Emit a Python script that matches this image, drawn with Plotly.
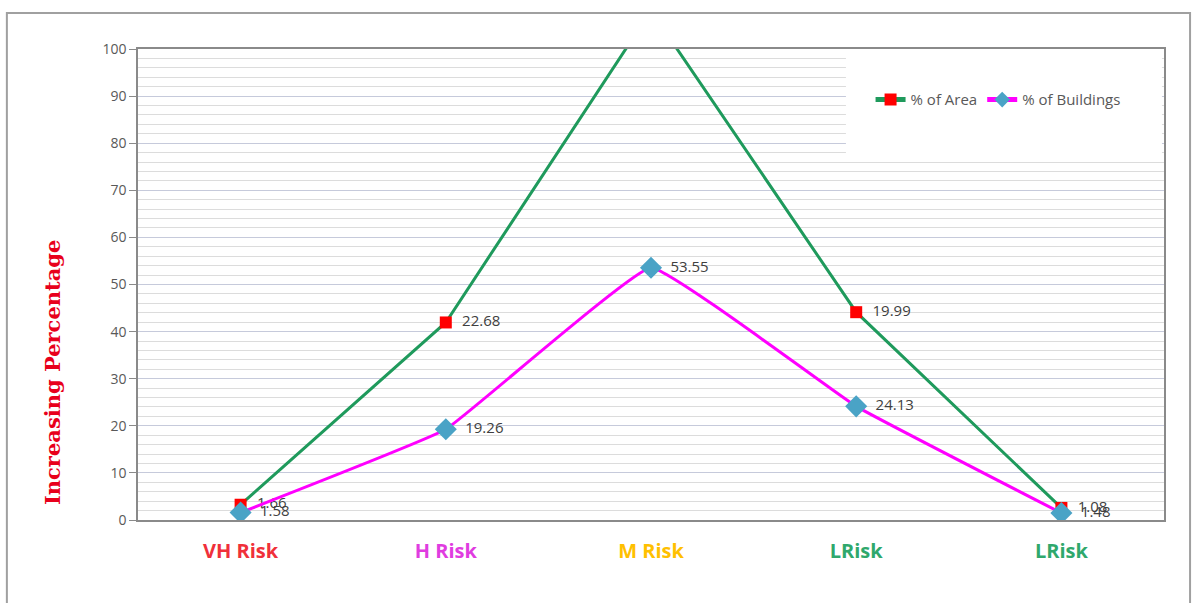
import numpy as np
import plotly.graph_objects as go

# risk zones and the two series (Excel stacked line chart)
categories = ["VH Risk", "H Risk", "M Risk", "LRisk", "LRisk"]
category_colors = ["#f0303a", "#e03ce0", "#ffc000", "#2fa86c", "#2fa86c"]
pct_buildings = [1.58, 19.26, 53.55, 24.13, 1.48]
pct_area = [1.66, 22.68, 54.59, 19.99, 1.08]
y_ticks = list(range(0, 101, 10))

x_pos = list(range(len(categories)))
# area series is stacked on top of buildings, labels keep the raw values
area_stacked = np.array(pct_buildings) + np.array(pct_area)
y_max = y_ticks[-1]

FONT = "Open Sans, Noto Sans, sans-serif"
LABEL_FONT = dict(family=FONT, size=15, color="#404040")

fig = go.Figure()

fig.add_trace(go.Scatter(
    x=x_pos, y=area_stacked,
    name="% of Area",
    mode="lines+markers+text",
    line=dict(color="#1f9a5c", width=3),
    marker=dict(symbol="square", size=12, color="#ff0000"),
    # label of the point that runs off the top is clipped in the original
    text=["  " + f"{v:.2f}" if s <= y_max else "" for v, s in zip(pct_area, area_stacked)],
    textposition="middle right",
    textfont=LABEL_FONT,
    cliponaxis=True,
))

fig.add_trace(go.Scatter(
    x=x_pos, y=pct_buildings,
    name="% of Buildings",
    mode="lines+markers+text",
    line=dict(color="#ff00ff", width=3, shape="spline", smoothing=0.25),
    marker=dict(symbol="diamond", size=17, color="#4aa3c6"),
    text=["  " + f"{v:.2f}" for v in pct_buildings],
    textposition="middle right",
    textfont=LABEL_FONT,
    cliponaxis=True,
))

fig.update_xaxes(
    range=[-0.5, len(categories) - 0.5],
    tickvals=x_pos,
    ticktext=[f"<span style='color:{c}'><b>{t}</b></span>" for t, c in zip(categories, category_colors)],
    tickfont=dict(family=FONT, size=20),
    ticks="",
    ticklabelstandoff=12,
    showgrid=False,
    showline=True, linecolor="#8a8a8a", linewidth=1.5, mirror=True,
    zeroline=False,
)

fig.update_yaxes(
    range=[0, y_max],
    tickvals=y_ticks,
    tickfont=dict(family=FONT, size=14, color="#595959"),
    ticks="outside", ticklen=7, tickcolor="#8a8a8a",
    showgrid=True, gridcolor="#c6cadb", gridwidth=1,
    minor=dict(dtick=2, showgrid=True, gridcolor="#dcdcdc", gridwidth=1),
    showline=True, linecolor="#8a8a8a", linewidth=1.5, mirror=True,
    zeroline=False,
)

fig.update_layout(
    width=1196, height=603,
    margin=dict(l=138, r=32, t=49, b=83, autoexpand=False),
    paper_bgcolor="white", plot_bgcolor="white",
    showlegend=True,
    legend=dict(
        orientation="h", x=0.714, y=0.892, xanchor="left", yanchor="middle",
        bgcolor="rgba(0,0,0,0)",
        font=dict(family=FONT, size=15, color="#595959"),
        itemwidth=30, itemsizing="constant",
    ),
    shapes=[
        # white legend box over the grid (no data passes through this corner)
        dict(type="rect", xref="paper", yref="paper", x0=0.69, x1=0.998, y0=0.779, y1=0.997,
             fillcolor="white", line=dict(width=0), layer="above"),
        # outer chart border
        dict(type="rect", xref="paper", yref="paper", x0=-0.1278, x1=1.0254, y0=-0.2, y1=1.0764,
             line=dict(color="#a0a0a0", width=2), fillcolor="rgba(0,0,0,0)"),
    ],
    annotations=[
        dict(text="<b>Increasing Percentage</b>", textangle=-90,
             xref="paper", yref="paper", x=-0.0839, y=0.314,
             showarrow=False, xanchor="center", yanchor="middle",
             font=dict(family="DejaVu Serif, Liberation Serif, serif", size=21, color="#e8001c")),
    ],
)

fig.write_html("out.html", config={"displayModeBar": False},
               post_script="document.body.style.margin='0px';")
